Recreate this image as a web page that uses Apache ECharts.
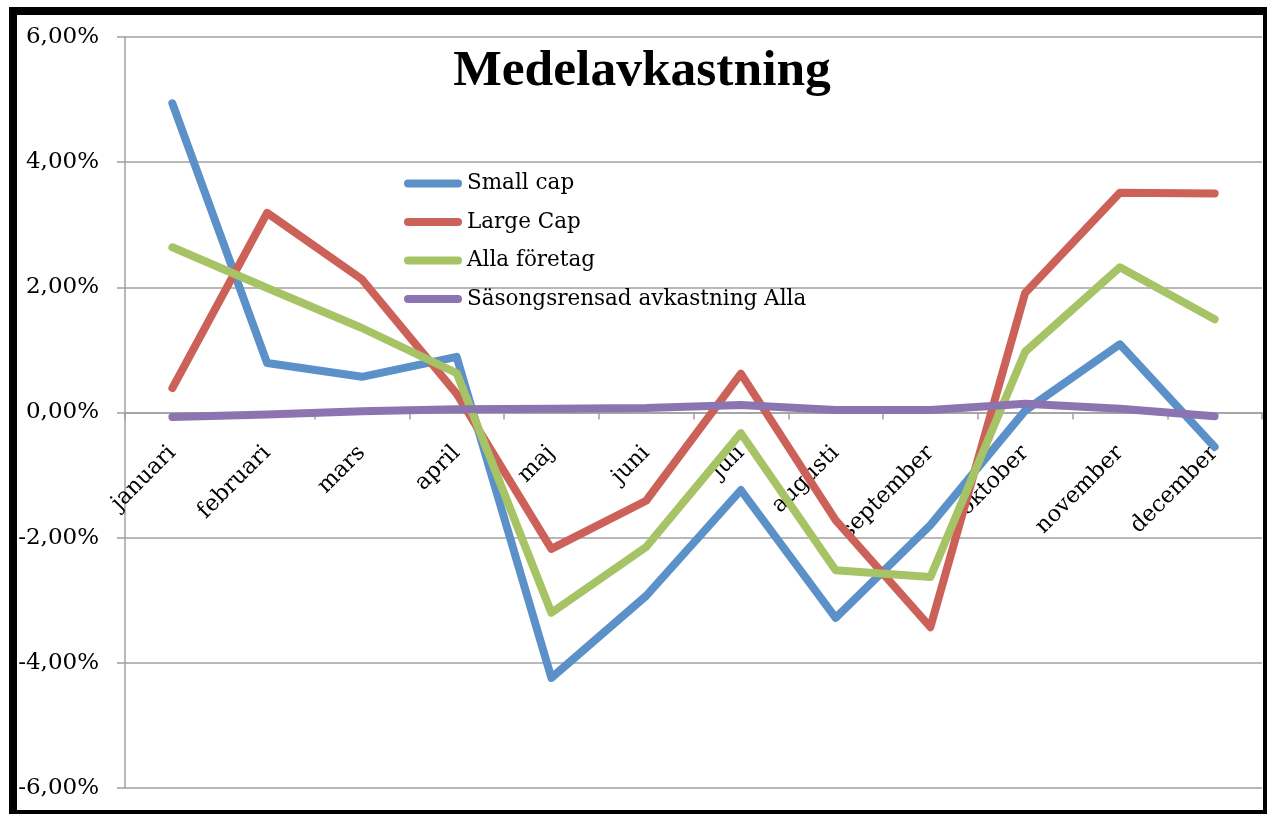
<!DOCTYPE html>
<html>
<head>
<meta charset="utf-8">
<title>Medelavkastning</title>
<script src="https://cdn.jsdelivr.net/npm/echarts@6/dist/echarts.min.js"></script>
<style>
  html, body { margin: 0; padding: 0; background: #fff; }
  #chart { width: 1267px; height: 814px; }
</style>
</head>
<body>
<div id="chart"></div>
<script>
// Monthly average returns, in percent
const months = ['januari', 'februari', 'mars', 'april', 'maj', 'juni', 'juli',
  'augusti', 'september', 'oktober', 'november', 'december'];

const smallCap = [4.94, 0.79, 0.57, 0.89, -4.24, -2.93, -1.24, -3.28, -1.80, 0.03, 1.09, -0.55];
const largeCap = [0.39, 3.19, 2.13, 0.30, -2.18, -1.41, 0.62, -1.72, -3.43, 1.91, 3.51, 3.50];
const allaForetag = [2.64, 1.99, 1.35, 0.63, -3.20, -2.15, -0.33, -2.52, -2.63, 0.97, 2.32, 1.49];
const sasongsrensad = [-0.07, -0.03, 0.02, 0.05, 0.06, 0.07, 0.12, 0.04, 0.04, 0.14, 0.06, -0.06];

const yTicks = [-6, -4, -2, 0, 2, 4, 6];

const seriesNames = ['Small cap', 'Large Cap', 'Alla företag', 'Säsongsrensad avkastning Alla'];
const seriesColors = ['#5b90c8', '#cc6159', '#a6c466', '#8c74b0'];
const seriesData = [smallCap, largeCap, allaForetag, sasongsrensad];

const textFont = 'DejaVu Serif';

// plot box
const gridTop = 37;
const gridBottom = 26;
const chartHeight = 814;

const chart = echarts.init(document.getElementById('chart'), null, { renderer: 'canvas' });

const legendIcon = 'path://M4,0 L54,0 A4,4 0 0 1 54,8 L4,8 A4,4 0 0 1 4,0 Z';

// the category axis sits on the zero line; lift it from the bottom edge by the
// distance between the bottom of the plot and y = 0
const plotHeight = chartHeight - gridTop - gridBottom;
const zeroLift = plotHeight * (0 - yTicks[0]) / (yTicks[yTicks.length - 1] - yTicks[0]);

chart.setOption({
  backgroundColor: '#ffffff',
  animation: false,
  title: {
    text: 'Medelavkastning',
    left: 637,
    top: 41,
    textAlign: 'center',
    textStyle: {
      fontFamily: 'Liberation Serif',
      fontWeight: 'bold',
      fontSize: 51.5,
      color: '#000'
    }
  },
  legend: {
    orient: 'vertical',
    left: 399,
    top: 167,
    itemWidth: 58,
    itemHeight: 8,
    itemGap: 15.5,
    icon: legendIcon,
    textStyle: {
      fontFamily: textFont,
      fontSize: 21.5,
      lineHeight: 23,
      color: '#000'
    },
    data: seriesNames
  },
  grid: {
    left: 125,
    right: 5,
    top: gridTop,
    bottom: gridBottom,
    containLabel: false,
    outerBoundsMode: 'none'
  },
  xAxis: {
    type: 'category',
    data: months,
    boundaryGap: true,
    position: 'bottom',
    offset: -zeroLift,
    axisLine: { onZero: false, lineStyle: { color: '#a0a0a0', width: 1.5 } },
    axisTick: { show: true, length: 7, lineStyle: { color: '#a0a0a0', width: 1.5 } },
    axisLabel: {
      rotate: 45,
      margin: 37,
      interval: 0,
      fontFamily: textFont,
      fontSize: 22.5,
      color: '#000'
    },
    splitLine: { show: false }
  },
  yAxis: {
    type: 'value',
    min: yTicks[0],
    max: yTicks[yTicks.length - 1],
    interval: 2,
    axisLine: { show: true, lineStyle: { color: '#a0a0a0', width: 1.5 } },
    axisTick: { show: true, length: 8, lineStyle: { color: '#a0a0a0', width: 1.5 } },
    axisLabel: {
      margin: 26,
      fontFamily: textFont,
      fontSize: 23,
      color: '#000',
      formatter: v => v.toFixed(2).replace('.', ',') + '%'
    },
    splitLine: { show: true, lineStyle: { color: '#a0a0a0', width: 1.5 } }
  },
  series: seriesData.map((data, i) => ({
    name: seriesNames[i],
    type: 'line',
    data: data,
    symbol: 'none',
    showSymbol: false,
    color: seriesColors[i],
    lineStyle: { width: 8, color: seriesColors[i], cap: 'round', join: 'round' },
    itemStyle: { color: seriesColors[i] },
    z: 2 + i
  })),
  graphic: [{
    type: 'rect',
    z: 100,
    silent: true,
    shape: { x: 13, y: 11, width: 1254, height: 803 },
    style: { fill: 'none', stroke: '#000', lineWidth: 8 }
  }]
});
</script>
</body>
</html>
